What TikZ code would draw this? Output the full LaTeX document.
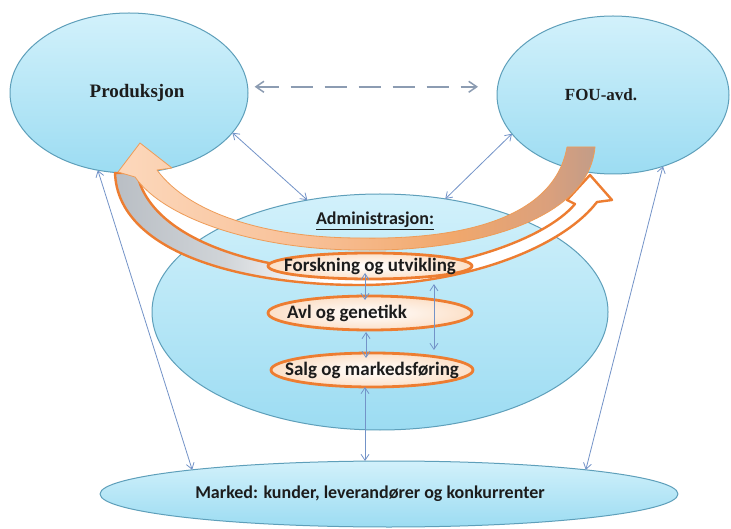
\documentclass[tikz,border=0pt]{standalone}
\usepackage{fontspec}
\usetikzlibrary{shapes.geometric,arrows.meta}
\newfontfamily\carl{Carlito}
\newfontfamily\tms{Liberation Serif}

\definecolor{blobtop}{HTML}{D2F1FB}
\definecolor{blobbot}{HTML}{9CDCF2}
\definecolor{blobline}{HTML}{5E9FBA}
\definecolor{linkc}{HTML}{7393C8}
\definecolor{dashc}{HTML}{8C9CB2}
\definecolor{borange}{HTML}{ED7D31}
\definecolor{unitfill}{HTML}{FCE0C8}
\definecolor{txt}{HTML}{1C1C1C}
\definecolor{fedge}{HTML}{EE9C58}
\definecolor{bandA}{HTML}{FCD8BC}
\definecolor{bandB}{HTML}{F8C097}
\definecolor{bandC}{HTML}{F1A86C}
\definecolor{bandD}{HTML}{DBA07C}
\definecolor{bandE}{HTML}{C29C88}
\definecolor{greyA}{HTML}{B9BEC4}
\definecolor{greyB}{HTML}{D0D4D8}

% left-to-right fills for the two curved arrows
\pgfdeclarehorizontalshading{peachband}{100bp}{color(0bp)=(bandA); color(25bp)=(bandA); color(45bp)=(bandB); color(60bp)=(bandC); color(70bp)=(bandD); color(75bp)=(bandE); color(100bp)=(bandE)}
\pgfdeclarehorizontalshading{greyband}{100bp}{color(0bp)=(greyA); color(25bp)=(greyA); color(36bp)=(greyB); color(46bp)=(white); color(100bp)=(white)}

\tikzset{
  blob/.style={ellipse, draw=blobline, line width=1pt, top color=blobtop,
    bottom color=blobbot, inner sep=0pt, outer sep=0pt, text=txt},
  unit/.style={ellipse, draw=borange, line width=2.8pt, inner color=white,
    outer color=unitfill, inner sep=0pt, outer sep=0pt, minimum width=204pt,
    text=txt, font=\carl\bfseries\fontsize{19}{22}\selectfont},
  sanslabel/.style={text=txt, inner sep=0pt, font=\carl\bfseries\fontsize{18}{21}\selectfont},
  seriflabel/.style={font=\tms\bfseries\fontsize{18}{21}\selectfont},
  link/.style={draw=linkc, line width=0.8pt, >={Straight Barb[length=6pt,width=8pt]}, <->},
  dashlink/.style={draw=dashc, line width=1.5pt, dash pattern=on 22pt off 12pt,
    >={Straight Barb[length=8pt,width=11pt]}, <->}
}

\begin{document}
\begin{tikzpicture}[x=1pt, y=-1pt, line join=round]
  \useasboundingbox (0,0) rectangle (731,529);
  \fill[white] (0,0) rectangle (731,529);

  % the four departments
  \node[blob, seriflabel, minimum width=238pt, minimum height=160pt] (prod) at (129,93)
    {\makebox[0pt]{\hspace{16pt}\fontsize{19}{21}\selectfont Produksjon}};
  \node[blob, seriflabel, minimum width=232pt, minimum height=158pt] (fou) at (613,95)
    {\makebox[0pt]{\fontsize{17}{21}\selectfont FOU-avd.\hspace{24pt}}};
  \node[blob, minimum width=456pt, minimum height=236pt] (adm) at (380,312) {};
  \node[blob, sanslabel, minimum width=578pt, minimum height=66pt] (marked) at (389,494)
    {\makebox[0pt]{Marked: kunder, leverandører og konkurrenter\hspace{38pt}}};

  \node[sanslabel] (admtxt) at (375,221) {\underline{Administrasjon:}};

  % links between the departments
  \draw[link] (prod.-21) -- (adm.123.35);
  \draw[link] (fou.-159) -- (adm.60.2);
  \draw[link] (prod.-112) -- (marked.173);
  \draw[link] (fou.-55) -- (marked.7);
  \draw[dashlink, shorten <=7pt, shorten >=19pt] (prod.3) -- (prod.3 -| fou.west);

  % outlined curved arrow towards FOU-avd.
  \shadedraw[shading=greyband, draw=borange, line width=2.4pt]
    (115,173) .. controls (118,252) and (240,285) .. (360,285)
    .. controls (460,285) and (560,250) .. (597,202)
    -- (612,200) -- (590,175) -- (567,200) -- (575,204)
    .. controls (545,240) and (450,272) .. (360,272)
    .. controls (260,272) and (150,240) .. (137,173) -- cycle;

  % filled curved arrow towards Produksjon
  \shadedraw[shading=peachband, draw=fedge, line width=0.8pt]
    (567,147) .. controls (555,215) and (470,240) .. (360,238)
    .. controls (270,238) and (190,215) .. (157,170)
    -- (172,168) -- (140,143) -- (118,172) -- (135,177)
    .. controls (165,220) and (260,250) .. (360,250)
    .. controls (460,252) and (588,225) .. (595,147) -- cycle;

  % units inside the administration
  \node[unit, minimum height=26pt] (forsk) at (370,266)
    {\makebox[0pt]{Forskning og utvikling}};
  \node[unit, minimum height=34pt] (avl) at (370,313)
    {\makebox[0pt]{\makebox[166pt][l]{Avl og genetikk}}};
  \node[unit, minimum width=202pt, minimum height=34pt] (salg) at (372,370)
    {\makebox[0pt]{Salg og markedsføring}};

  \draw[link] ([xshift=-5pt,yshift=6pt]forsk.south) -- ([xshift=-5pt,yshift=-4pt]avl.north);
  \draw[link] ([xshift=-4pt,yshift=-2pt]avl.south) -- ([xshift=-6pt,yshift=-5pt]salg.north);
  \draw[link, shorten <=8pt, shorten >=3pt] (forsk.-9) -- (forsk.-9 |- salg.north);
  \draw[link] ([xshift=-7pt]salg.south) -- ([xshift=-7pt]salg.south |- marked.north);
\end{tikzpicture}
\end{document}
